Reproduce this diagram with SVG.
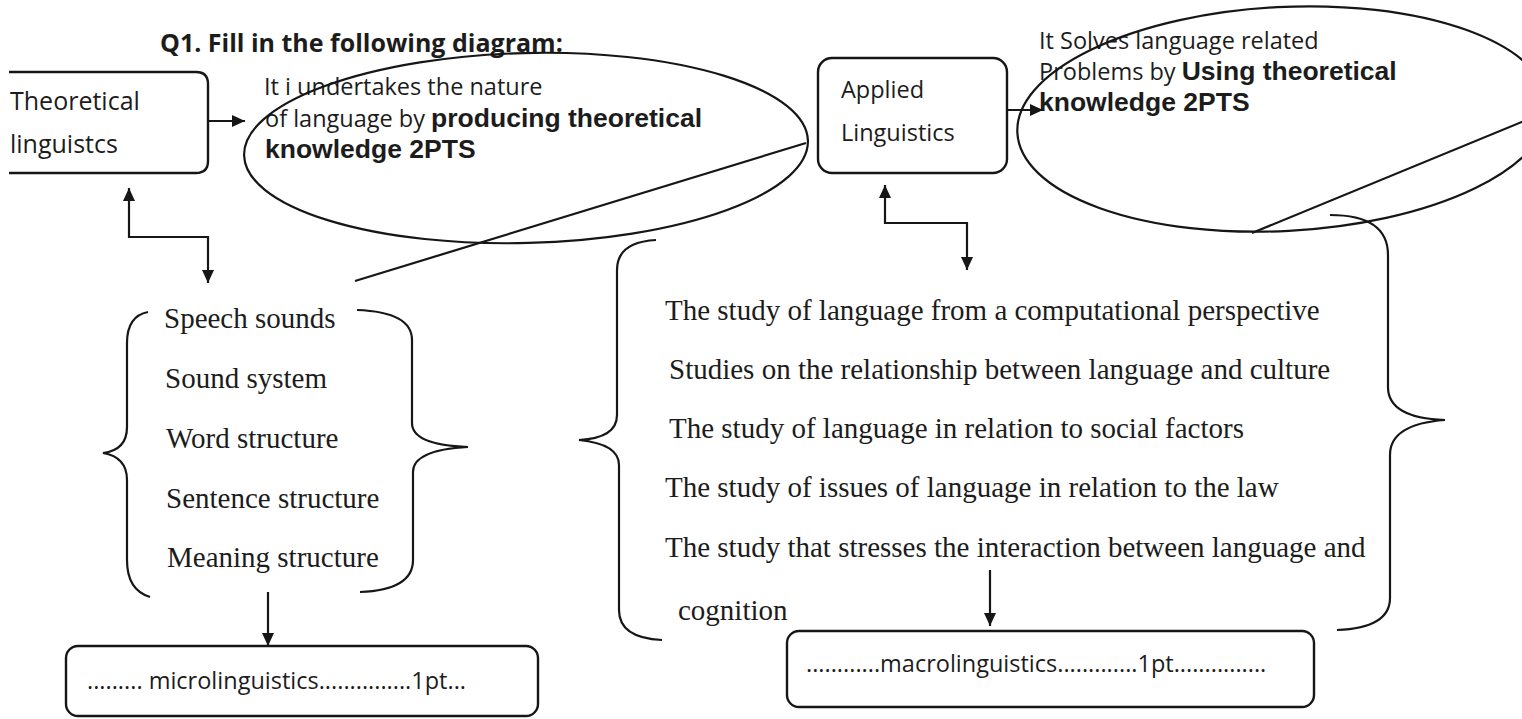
<svg xmlns="http://www.w3.org/2000/svg" width="1522" height="719" viewBox="0 0 1522 719">
<defs>
<style>
.sans{font-family:"Open Sans","Liberation Sans",sans-serif;font-size:23.5px;fill:#1c1c1c}
.title{font-family:"Open Sans","Liberation Sans",sans-serif;font-size:25px;font-weight:bold;fill:#1c1c1c}
.bold{font-family:"Liberation Sans",Arial,sans-serif;font-size:26.5px;font-weight:bold;fill:#1c1c1c}
.serif{font-family:"Liberation Serif","Times New Roman",serif;font-size:29px;fill:#1c1c1c}
.ln{fill:none;stroke:#161616;stroke-width:2.2}
.box{fill:#fff;stroke:#161616;stroke-width:2.4}
</style>
<marker id="ah" markerUnits="userSpaceOnUse" markerWidth="14" markerHeight="14" refX="13" refY="7" orient="auto">
<path d="M0,1 L13,7 L0,13 z" fill="#161616"/>
</marker>
</defs>
<rect width="1522" height="719" fill="#fff"/>

<g id="title">
<text class="title" x="160" y="52">Q1. Fill in the following diagram:</text>
</g>

<g id="node-theoretical">
<path class="box" d="M9,72 H196 Q208,72 208,84 V161 Q208,173 196,173 H9"/>
<text class="sans" x="10" y="110" style="font-size:25px">Theoretical</text>
<text class="sans" x="10" y="153" style="font-size:25px">linguistcs</text>
</g>

<g id="node-theoretical-desc">
<text class="sans" x="264" y="95">It i undertakes the nature</text>
<text x="265" y="127"><tspan class="sans">of language by </tspan><tspan class="bold">producing theoretical</tspan></text>
<text class="bold" x="265" y="158">knowledge 2PTS</text>
<ellipse class="ln" cx="526" cy="148" rx="282" ry="95" transform="rotate(-1.5 526 148)"/>
</g>

<g id="node-applied">
<rect class="box" x="818" y="58" width="189" height="115" rx="14"/>
<text class="sans" x="841" y="98">Applied</text>
<text class="sans" x="841" y="141">Linguistics</text>
</g>

<g id="node-applied-desc">
<text class="sans" x="1039" y="49">It Solves language related</text>
<text x="1039" y="80"><tspan class="sans">Problems by </tspan><tspan class="bold">Using theoretical</tspan></text>
<text class="bold" x="1039" y="111">knowledge 2PTS</text>
<ellipse class="ln" cx="1283" cy="119" rx="266" ry="112" transform="rotate(-3 1283 119)"/>
</g>

<g id="node-micro-list">
<path class="ln" d="M148,312 Q127,316 127,343 V427 Q127,450 103,453 Q127,457 127,480 V560 Q127,590 150,597"/>
<path class="ln" d="M357,310 Q412,312 412,340 V423 Q412,445 468,447 Q413,450 413,472 V560 Q413,590 360,592"/>
<text class="serif" x="164" y="328">Speech sounds</text>
<text class="serif" x="165" y="388">Sound system</text>
<text class="serif" x="166" y="448">Word structure</text>
<text class="serif" x="166" y="508">Sentence structure</text>
<text class="serif" x="167" y="567">Meaning structure</text>
</g>

<g id="node-macro-list">
<path class="ln" d="M656,240 Q617,242 617,270 V415 Q617,438 579,440 Q619,444 619,465 V610 Q619,638 662,640"/>
<path class="ln" d="M1330,215 Q1388,215 1388,255 V387 Q1388,418 1445,420 Q1390,424 1390,455 V598 Q1390,628 1337,630"/>
<text class="serif" x="665" y="320">The study of language from a computational perspective</text>
<text class="serif" x="669" y="379">Studies on the relationship between language and culture</text>
<text class="serif" x="669" y="438">The study of language in relation to social factors</text>
<text class="serif" x="665" y="497">The study of issues of language in relation to the law</text>
<text class="serif" x="665" y="557">The study that stresses the interaction between language and</text>
<text class="serif" x="678" y="620">cognition</text>
</g>

<g id="node-micro">
<rect class="box" x="66" y="646" width="472" height="70" rx="12"/>
<text class="sans" x="87" y="689">......... microlinguistics...............1pt...</text>
</g>

<g id="node-macro">
<rect class="box" x="787" y="631" width="527" height="76" rx="12"/>
<text class="sans" x="806" y="672">............macrolinguistics.............1pt...............</text>
</g>

<g id="connectors">
<line class="ln" x1="208" y1="121" x2="245" y2="121" marker-end="url(#ah)"/>
<path class="ln" d="M208,237 H129 V188" marker-end="url(#ah)"/>
<path class="ln" d="M129,237 H208 V283" marker-end="url(#ah)"/>
<line class="ln" x1="1007" y1="110" x2="1043" y2="110" marker-end="url(#ah)"/>
<path class="ln" d="M967,223 H885 V185" marker-end="url(#ah)"/>
<path class="ln" d="M885,223 H967 V270" marker-end="url(#ah)"/>
<line class="ln" x1="268" y1="592" x2="268" y2="646" marker-end="url(#ah)"/>
<line class="ln" x1="990" y1="570" x2="990" y2="626" marker-end="url(#ah)"/>
<line class="ln" x1="806" y1="143" x2="355" y2="281"/>
<line class="ln" x1="1524" y1="121" x2="1252" y2="233"/>
</g>
</svg>
